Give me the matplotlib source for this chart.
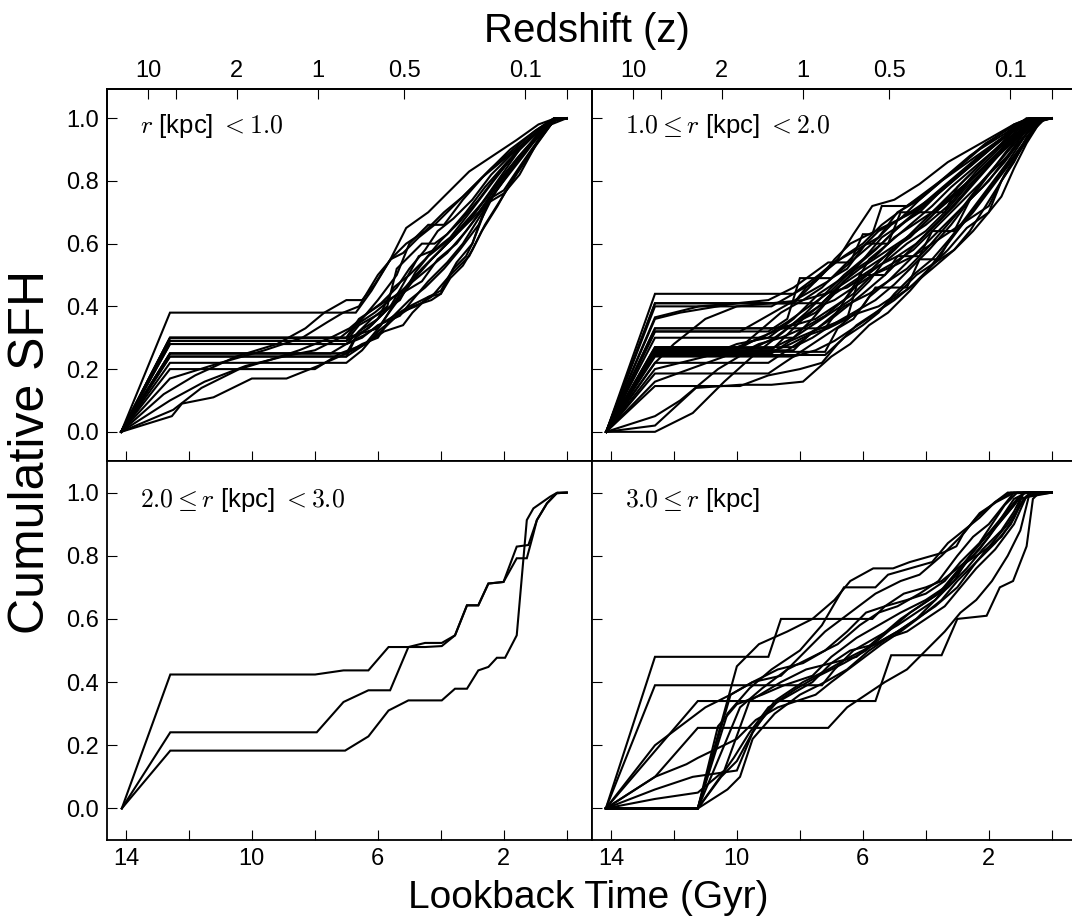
"""
Cumulative star formation histories in four radial bins,
lookback time on the bottom axis and redshift on the top axis.
"""
import matplotlib
matplotlib.use('Agg')
import matplotlib.pyplot as plt

plt.rcParams['font.family'] = ['Liberation Sans', 'DejaVu Sans']
plt.rcParams['mathtext.fontset'] = 'cm'

# ---- data: each curve is a list of (lookback time [Gyr], cumulative SFH) ----
SFH_R0 = [  # r < 1.0 kpc
    [(14.15, 0), (12.6, .38), (6.7, .38), (6.2, .45), (5.6, .55), (5.1, .65), (4.4, .70), (3.6, .78), (3.1, .83), (2.5, .87), (1.6, .93), (0.9, .98), (0.35, 1), (0, 1)],
    [(14.15, 0), (12.6, .30), (7.0, .30), (6.5, .36), (6.0, .42), (5.4, .50), (5.0, .60), (4.4, .66), (3.9, .66), (3.3, .74), (2.6, .82), (1.8, .90), (1.0, .96), (0.4, 1), (0, 1)],
    [(14.15, 0), (12.6, .30), (7.0, .30), (6.0, .33), (5.5, .40), (4.9, .48), (4.3, .55), (3.6, .62), (2.9, .70), (2.2, .80), (1.5, .90), (0.8, .97), (0.35, 1), (0, 1)],
    [(14.15, 0), (12.6, .29), (7.0, .29), (6.3, .33), (5.8, .38), (5.2, .44), (4.6, .52), (4.0, .58), (3.3, .66), (2.6, .74), (2.0, .82), (1.3, .90), (0.6, .98), (0.3, 1), (0, 1)],
    [(14.15, 0), (12.6, .28), (7.0, .28), (6.4, .31), (5.8, .35), (5.0, .40), (4.4, .43), (4.0, .45), (3.5, .54), (3.0, .60), (2.5, .74), (2.0, .77), (1.4, .86), (0.7, .96), (0.35, 1), (0, 1)],
    [(14.15, 0), (12.6, .28), (7.0, .28), (6.2, .36), (5.7, .40), (5.4, .52), (5.0, .56), (4.6, .60), (4.2, .60), (3.8, .63), (3.2, .70), (2.6, .78), (1.9, .86), (1.2, .93), (0.5, .99), (0, 1)],
    [(14.15, 0), (12.6, .25), (7.0, .25), (6.5, .28), (6.0, .30), (5.6, .36), (5.0, .42), (4.5, .46), (3.9, .52), (3.4, .58), (2.8, .66), (2.3, .76), (1.6, .86), (0.9, .95), (0.4, 1), (0, 1)],
    [(14.15, 0), (12.6, .25), (7.0, .25), (6.6, .32), (6.0, .36), (5.5, .46), (5.0, .50), (4.5, .55), (4.0, .61), (3.4, .67), (2.8, .74), (2.2, .82), (1.5, .90), (0.8, .97), (0.3, 1), (0, 1)],
    [(14.15, 0), (12.6, .24), (7.0, .24), (6.4, .28), (5.9, .32), (5.3, .38), (4.8, .40), (4.3, .43), (3.7, .50), (3.1, .56), (2.7, .64), (2.2, .72), (1.7, .81), (1.1, .90), (0.5, .98), (0, 1)],
    [(14.15, 0), (12.6, .24), (7.0, .24), (6.7, .30), (6.2, .34), (5.6, .40), (5.2, .47), (4.7, .56), (4.2, .58), (3.7, .62), (3.0, .71), (2.4, .79), (1.7, .88), (1.0, .95), (0.4, 1), (0, 1)],
    [(14.15, 0), (12.6, .22), (7.0, .22), (6.5, .26), (6.0, .32), (5.5, .36), (4.9, .40), (4.3, .42), (4.0, .44), (3.6, .52), (3.2, .56), (3.0, .60), (2.5, .73), (2.0, .76), (1.5, .82), (0.9, .93), (0.35, 1), (0, 1)],
    [(14.15, 0), (12.6, .20), (8.0, .20), (7.2, .25), (6.4, .28), (5.9, .34), (5.3, .44), (4.8, .50), (4.2, .56), (3.5, .63), (2.9, .70), (2.3, .78), (1.6, .87), (0.9, .95), (0.35, 1), (0, 1)],
    [(14.15, 0), (12.54, .05), (12.22, .09), (11.22, .11), (10.0, .17), (8.9, .17), (7.9, .21), (7.0, .25), (6.4, .28), (5.8, .32), (5.2, .34), (4.9, .38), (4.4, .43), (4.0, .44), (3.7, .49), (3.3, .53), (3.0, .58), (2.6, .66), (2.1, .74), (1.6, .82), (1.0, .91), (0.5, .98), (0.3, 1), (0, 1)],
    [(14.15, 0), (12.6, .10), (11.5, .16), (10.2, .21), (9.0, .24), (8.0, .26), (7.2, .30), (6.7, .34), (6.1, .38), (5.5, .43), (5.0, .47), (4.4, .52), (3.8, .57), (3.2, .64), (2.6, .72), (2.0, .80), (1.3, .89), (0.7, .97), (0.3, 1), (0, 1)],
    [(14.15, 0), (12.8, .12), (11.8, .18), (10.5, .24), (9.2, .28), (8.3, .33), (7.7, .38), (7.0, .42), (6.5, .42), (6.1, .47), (5.6, .55), (5.2, .57), (4.7, .62), (4.2, .66), (3.6, .72), (3.0, .78), (2.4, .84), (1.7, .90), (1.0, .96), (0.4, 1), (0, 1)],
    [(14.15, 0), (12.5, .07), (11.6, .14), (10.4, .20), (9.4, .23), (8.5, .26), (7.5, .30), (6.9, .33), (6.3, .38), (5.7, .42), (5.1, .45), (4.6, .48), (4.1, .55), (3.5, .60), (2.9, .68), (2.3, .76), (1.8, .84), (1.2, .91), (0.6, .97), (0.3, 1), (0, 1)],
    [(14.15, 0), (12.6, .17), (11.0, .22), (9.6, .26), (8.4, .30), (7.6, .35), (7.1, .38), (6.6, .40), (6.0, .50), (5.5, .56), (5.1, .60), (4.5, .64), (3.9, .70), (3.3, .75), (2.7, .81), (2.1, .86), (1.5, .91), (0.8, .97), (0.35, 1), (0, 1)],
    [(14.15, 0), (12.6, .25), (7.5, .25), (7.0, .28), (6.5, .30), (6.0, .34), (5.3, .37), (4.9, .42), (4.4, .48), (3.8, .54), (3.3, .60), (2.8, .68), (2.3, .76), (1.8, .83), (1.1, .92), (0.5, .98), (0.3, 1), (0, 1)],
    [(14.15, 0), (12.6, .29), (7.0, .29), (6.6, .34), (5.9, .38), (5.3, .42), (4.8, .51), (4.4, .56), (3.9, .60), (3.4, .64), (2.8, .70), (2.1, .80), (1.5, .88), (0.8, .96), (0.3, 1), (0, 1)],
    [(14.15, 0), (12.6, .30), (7.0, .30), (6.6, .36), (6.3, .38), (5.9, .41), (5.4, .46), (5.0, .52), (4.5, .58), (4.1, .64), (3.6, .68), (3.0, .74), (2.4, .82), (1.8, .88), (1.1, .94), (0.5, .99), (0, 1)],
]

SFH_R1 = [  # 1.0 <= r < 2.0 kpc
    [(14.15, 0), (12.6, .44), (8.2, .44), (7.4, .50), (6.8, .55), (6.3, .63), (5.7, .72), (5.0, .74), (4.2, .79), (3.3, .86), (2.6, .90), (1.9, .94), (1.2, .98), (0.7, 1), (0, 1)],
    [(14.15, 0), (12.6, .41), (8.2, .41), (7.8, .46), (7.1, .52), (6.6, .56), (6.0, .60), (5.4, .66), (4.6, .72), (3.8, .78), (3.0, .84), (2.3, .90), (1.5, .95), (0.8, 1), (0, 1)],
    [(14.15, 0), (12.6, .40), (8.9, .40), (8.2, .44), (7.5, .48), (6.9, .54), (6.2, .58), (5.5, .62), (4.9, .70), (4.2, .74), (3.5, .80), (2.8, .86), (2.1, .92), (1.3, .97), (0.6, 1), (0, 1)],
    [(14.15, 0), (12.6, .36), (11.8, .38), (10.0, .41), (9.0, .42), (8.2, .46), (7.1, .54), (6.4, .54), (6.0, .63), (5.7, .63), (5.4, .72), (4.6, .72), (4.0, .76), (3.3, .82), (2.6, .88), (1.9, .93), (1.2, .98), (0.7, 1), (0, 1)],
    [(14.15, 0), (12.6, .33), (7.2, .33), (6.7, .40), (6.2, .48), (5.8, .55), (5.2, .60), (4.5, .66), (3.8, .72), (3.2, .78), (2.5, .84), (1.8, .90), (1.1, .96), (0.5, 1), (0, 1)],
    [(14.15, 0), (12.6, .32), (9.0, .32), (8.4, .36), (8.0, .49), (7.0, .49), (6.5, .52), (5.9, .60), (5.2, .60), (4.8, .70), (3.4, .70), (3.0, .78), (2.4, .84), (1.8, .90), (1.2, .96), (0.6, 1), (0, 1)],
    [(14.15, 0), (12.6, .27), (10.0, .27), (9.2, .30), (8.4, .35), (7.7, .40), (7.0, .45), (6.3, .52), (5.6, .58), (5.0, .64), (4.3, .70), (3.6, .76), (2.9, .82), (2.2, .88), (1.5, .94), (0.8, .99), (0, 1)],
    [(14.15, 0), (12.6, .266), (8.9, .266), (8.2, .30), (7.6, .34), (7.0, .38), (6.4, .42), (5.8, .48), (5.2, .56), (4.6, .62), (4.0, .66), (3.3, .72), (2.6, .80), (1.9, .87), (1.2, .94), (0.6, .99), (0, 1)],
    [(14.15, 0), (12.6, .26), (8.2, .26), (7.6, .32), (7.0, .36), (6.5, .40), (6.0, .44), (5.3, .50), (4.7, .56), (4.1, .62), (3.5, .68), (2.8, .76), (2.1, .84), (1.4, .92), (0.7, .98), (0, 1)],
    [(14.15, 0), (12.6, .255), (8.9, .255), (8.3, .28), (7.7, .31), (7.1, .33), (6.5, .36), (6.1, .50), (5.3, .50), (4.9, .56), (4.2, .56), (3.8, .64), (3.1, .64), (2.6, .74), (2.0, .80), (1.4, .88), (0.8, .95), (0.4, 1), (0, 1)],
    [(14.15, 0), (12.6, .25), (9.9, .25), (9.3, .28), (8.6, .30), (7.9, .33), (7.2, .37), (6.6, .42), (6.1, .48), (5.5, .53), (4.9, .56), (4.3, .60), (3.7, .66), (3.1, .72), (2.4, .80), (1.7, .88), (1.0, .95), (0.5, 1), (0, 1)],
    [(14.15, 0), (12.6, .245), (7.2, .245), (6.6, .30), (6.0, .34), (5.5, .38), (5.0, .44), (4.4, .50), (3.8, .55), (3.2, .62), (2.6, .70), (2.0, .78), (1.4, .86), (0.8, .95), (0.3, 1), (0, 1)],
    [(14.15, 0), (12.6, .22), (9.0, .22), (8.4, .26), (7.8, .30), (7.2, .35), (6.6, .40), (5.8, .44), (5.2, .48), (4.6, .52), (4.0, .58), (3.4, .65), (2.8, .72), (2.2, .78), (1.5, .86), (0.9, .94), (0.4, 1), (0, 1)],
    [(14.15, 0), (12.6, .186), (9.0, .186), (8.5, .22), (7.9, .26), (7.3, .30), (6.7, .34), (6.0, .40), (5.6, .46), (4.6, .46), (4.2, .55), (3.6, .55), (3.2, .62), (2.5, .70), (1.9, .78), (1.3, .86), (0.7, .95), (0.3, 1), (0, 1)],
    [(14.15, 0), (12.6, .146), (9.9, .146), (9.0, .18), (8.0, .20), (7.3, .22), (6.8, .28), (6.2, .34), (5.6, .38), (5.0, .42), (4.4, .47), (3.8, .52), (3.1, .58), (2.5, .64), (2.0, .70), (1.6, .80), (1.2, .86), (0.8, .94), (0.3, 1), (0, 1)],
    [(14.15, 0), (12.6, 0), (11.4, .06), (10.4, .16), (9.4, .25), (8.5, .32), (7.8, .38), (7.2, .44), (6.6, .50), (6.0, .55), (5.4, .60), (4.8, .66), (4.1, .72), (3.4, .78), (2.7, .84), (2.0, .90), (1.3, .96), (0.6, 1), (0, 1)],
    [(14.15, 0), (12.6, .02), (11.3, .14), (9.9, .15), (8.9, .15), (7.9, .16), (7.0, .24), (6.4, .28), (5.8, .34), (5.2, .38), (4.5, .45), (3.9, .52), (3.3, .58), (2.7, .65), (2.0, .70), (1.6, .75), (1.2, .84), (0.8, .92), (0.3, 1), (0, 1)],
    [(14.15, 0), (12.6, .05), (11.8, .10), (10.6, .20), (9.6, .26), (8.8, .30), (8.0, .36), (7.4, .40), (6.8, .46), (6.2, .50), (5.6, .54), (5.0, .58), (4.4, .64), (3.8, .70), (3.1, .76), (2.4, .82), (1.7, .89), (1.0, .95), (0.5, 1), (0, 1)],
    [(14.15, 0), (12.6, .16), (11.5, .20), (10.4, .24), (9.3, .30), (8.3, .34), (7.5, .38), (6.9, .44), (6.3, .48), (5.7, .52), (5.1, .58), (4.5, .62), (3.9, .68), (3.3, .74), (2.6, .80), (1.9, .87), (1.2, .94), (0.6, .99), (0, 1)],
    [(14.15, 0), (12.6, .22), (12.0, .28), (11.0, .36), (10.0, .40), (8.9, .41), (7.9, .42), (7.3, .46), (6.7, .52), (6.1, .58), (5.5, .64), (4.8, .68), (4.2, .74), (3.5, .80), (2.8, .85), (2.1, .90), (1.4, .95), (0.7, 1), (0, 1)],
    [(14.15, 0), (12.6, .365), (11.2, .40), (10.0, .41), (8.2, .41), (7.3, .50), (6.9, .55), (6.4, .60), (5.6, .64), (5.0, .67), (4.4, .70), (3.7, .76), (3.0, .82), (2.3, .88), (1.6, .93), (0.9, .98), (0, 1)],
    [(14.15, 0), (12.6, .30), (8.2, .30), (7.6, .36), (7.1, .42), (6.6, .48), (6.1, .52), (5.5, .56), (4.9, .60), (4.3, .64), (3.7, .70), (3.0, .76), (2.4, .83), (1.7, .90), (1.0, .96), (0.5, 1), (0, 1)],
    [(14.15, 0), (12.6, .27), (8.2, .27), (7.6, .30), (7.0, .34), (6.3, .38), (5.6, .42), (5.0, .47), (4.5, .52), (3.9, .58), (3.2, .66), (2.6, .74), (2.0, .82), (1.4, .88), (0.9, .95), (0.4, 1), (0, 1)],
    [(14.15, 0), (12.6, .26), (10.0, .26), (9.3, .32), (8.6, .38), (7.9, .42), (7.2, .44), (6.5, .46), (5.9, .50), (5.2, .55), (4.6, .60), (4.0, .64), (3.4, .70), (2.8, .77), (2.1, .84), (1.5, .90), (0.9, .96), (0.4, 1), (0, 1)],
    [(14.15, 0), (12.6, .25), (8.9, .25), (8.3, .29), (7.6, .32), (6.8, .35), (6.1, .38), (5.5, .40), (4.9, .44), (4.3, .50), (3.7, .54), (3.1, .58), (2.6, .64), (2.1, .72), (1.6, .80), (1.1, .88), (0.6, .96), (0.3, 1), (0, 1)],
    [(14.15, 0), (12.6, .32), (9.9, .32), (9.2, .36), (8.5, .40), (7.8, .44), (7.1, .48), (6.4, .54), (5.7, .60), (5.1, .66), (4.5, .70), (3.9, .74), (3.2, .80), (2.5, .86), (1.8, .92), (1.1, .97), (0.5, 1), (0, 1)],
    [(14.15, 0), (12.6, .24), (8.2, .24), (7.5, .26), (6.9, .29), (6.3, .33), (5.7, .37), (5.1, .42), (4.5, .46), (3.9, .52), (3.3, .60), (2.7, .68), (2.1, .76), (1.5, .84), (0.9, .92), (0.4, .99), (0, 1)],
    [(14.15, 0), (12.6, .20), (11.0, .24), (10.0, .28), (9.0, .30), (8.2, .36), (7.4, .44), (6.8, .48), (6.2, .52), (5.6, .56), (5.0, .62), (4.4, .66), (3.8, .70), (3.2, .76), (2.6, .82), (2.0, .88), (1.3, .94), (0.6, .99), (0, 1)],
    [(14.15, 0), (12.6, .41), (7.3, .41), (6.8, .46), (6.4, .50), (5.9, .56), (5.4, .62), (4.8, .66), (4.2, .70), (3.6, .76), (2.9, .82), (2.2, .88), (1.5, .94), (0.8, .99), (0, 1)],
    [(14.15, 0), (12.6, .255), (7.2, .255), (6.8, .33), (6.3, .36), (5.8, .43), (5.2, .48), (4.6, .54), (4.0, .60), (3.4, .66), (2.8, .72), (2.2, .80), (1.6, .87), (1.0, .94), (0.5, 1), (0, 1)],
    [(14.15, 0), (12.6, .26), (8.9, .26), (8.3, .32), (7.9, .36), (7.4, .40), (6.9, .42), (6.3, .46), (5.7, .50), (5.0, .53), (4.4, .56), (3.8, .60), (3.2, .64), (2.6, .68), (2.0, .72), (1.5, .82), (1.0, .90), (0.5, .97), (0.2, 1), (0, 1)],
    [(14.15, 0), (12.6, .33), (8.9, .33), (8.2, .34), (7.5, .36), (6.9, .40), (6.3, .44), (5.7, .50), (5.0, .54), (4.4, .58), (3.8, .64), (3.2, .70), (2.6, .76), (2.0, .82), (1.4, .90), (0.8, .97), (0.3, 1), (0, 1)],
]

SFH_R2 = [  # 2.0 <= r < 3.0 kpc
    [(14.13, 0), (12.59, .424), (7.99, .424), (7.09, .437), (6.30, .437), (5.66, .511), (4.50, .511), (3.97, .514), (3.55, .548), (3.17, .643), (2.81, .643), (2.49, .712), (2.01, .717), (1.59, .792), (1.27, .792), (1.06, .87), (0.95, .913), (0.63, .966), (0.32, .998), (0, 1)],
    [(14.13, 0), (12.59, .241), (7.94, .241), (7.09, .337), (6.30, .374), (5.61, .374), (5.03, .511), (4.50, .524), (3.97, .524), (3.55, .548), (3.17, .643), (2.81, .643), (2.49, .712), (2.01, .717), (1.59, .829), (1.22, .834), (0.95, .913), (0.63, .966), (0.32, .998), (0, 1)],
    [(14.13, 0), (12.59, .183), (7.04, .183), (6.30, .228), (5.66, .310), (5.03, .342), (3.97, .342), (3.55, .379), (3.17, .379), (2.81, .437), (2.49, .448), (2.22, .477), (1.96, .477), (1.59, .548), (1.27, .913), (1.06, .95), (0.53, .987), (0.3, 1), (0, 1)],
]

SFH_R3 = [  # r >= 3.0 kpc
    [(14.16, 0), (11.24, 0), (10.0, .45), (9.3, .52), (8.4, .56), (7.6, .60), (6.9, .66), (6.4, .72), (5.67, .76), (5.04, .76), (4.51, .78), (3.45, .81), (3.03, .83), (2.82, .868), (2.29, .935), (1.76, .97), (1.23, .998), (0, 1)],
    [(14.16, 0), (11.24, 0), (10.3, .30), (9.6, .38), (8.9, .44), (8.0, .50), (7.3, .58), (6.6, .70), (5.6, .70), (5.2, .74), (4.5, .76), (3.8, .78), (3.3, .84), (2.8, .88), (2.3, .92), (1.8, .97), (1.4, 1), (0, 1)],
    [(14.16, 0), (11.24, 0), (10.4, .20), (9.9, .32), (9.2, .38), (8.4, .44), (7.6, .48), (6.8, .52), (6.1, .58), (5.5, .62), (4.9, .64), (4.2, .68), (3.6, .72), (3.0, .80), (2.5, .86), (2.0, .90), (1.6, .95), (1.2, 1), (0, 1)],
    [(14.16, 0), (11.24, 0), (10.3, .06), (9.9, .10), (9.5, .22), (8.8, .30), (8.0, .36), (7.2, .40), (6.5, .44), (5.8, .50), (5.2, .54), (4.6, .56), (4.0, .60), (3.4, .64), (2.9, .70), (2.4, .76), (1.8, .82), (1.2, .90), (0.8, .99), (0, 1)],
    [(14.16, 0), (11.24, 0), (10.1, .16), (9.6, .24), (9.0, .32), (8.3, .36), (7.6, .40), (7.0, .46), (6.4, .50), (5.6, .52), (4.9, .56), (4.3, .60), (3.7, .66), (3.1, .72), (2.6, .80), (2.1, .86), (1.6, .92), (1.1, .98), (0, 1)],
    [(14.16, 0), (11.24, 0), (10.5, .10), (10.0, .15), (9.4, .26), (8.7, .34), (8.1, .38), (7.4, .42), (6.6, .46), (5.9, .50), (5.2, .56), (4.5, .62), (3.9, .66), (3.3, .70), (2.7, .76), (2.2, .82), (1.6, .88), (1.2, .94), (0.9, 1), (0, 1)],
    [(14.16, 0), (11.24, 0), (10.2, .36), (9.5, .40), (8.6, .42), (7.8, .50), (7.2, .56), (6.4, .62), (5.6, .68), (4.8, .72), (4.2, .74), (3.5, .80), (2.9, .86), (2.4, .92), (1.8, .97), (1.3, 1), (0, 1)],
    [(14.16, 0), (11.24, 0), (10.6, .26), (10.0, .33), (9.2, .36), (8.5, .39), (7.6, .42), (7.0, .48), (6.2, .54), (5.5, .58), (4.8, .62), (4.0, .66), (3.4, .70), (2.9, .76), (2.3, .82), (1.7, .90), (1.2, .96), (0.9, 1), (0, 1)],
    [(14.16, 0), (12.6, .48), (9.0, .48), (8.6, .60), (5.7, .60), (5.3, .64), (4.7, .68), (4.0, .70), (3.5, .72), (3.0, .76), (2.5, .80), (2.0, .86), (1.6, .92), (1.2, .98), (0.8, 1), (0, 1)],
    [(14.16, 0), (12.6, .39), (7.3, .39), (6.9, .44), (6.3, .50), (5.6, .54), (4.9, .58), (4.3, .62), (3.7, .66), (3.2, .72), (2.7, .78), (2.1, .82), (1.6, .86), (1.2, .92), (0.9, 1), (0, 1)],
    [(14.16, 0), (11.24, .34), (5.6, .34), (5.1, .485), (3.5, .485), (3.0, .60), (2.07, .61), (1.65, .70), (1.23, .72), (0.8, .83), (0.6, .98), (0.4, 1), (0, 1)],
    [(14.16, 0), (12.6, .10), (11.24, .255), (7.1, .255), (6.5, .32), (5.9, .36), (5.3, .40), (4.6, .44), (4.0, .50), (3.4, .56), (2.9, .62), (2.4, .66), (1.9, .72), (1.4, .80), (1.0, .88), (0.7, 1), (0, 1)],
    [(14.16, 0), (12.6, .20), (11.8, .26), (11.0, .32), (10.2, .36), (9.5, .40), (8.7, .44), (7.9, .46), (7.2, .50), (6.5, .56), (5.9, .62), (5.3, .64), (4.6, .66), (4.0, .68), (3.4, .72), (2.9, .78), (2.3, .84), (1.9, .90), (1.5, .96), (1.1, 1), (0, 1)],
    [(14.16, 0), (12.6, .06), (11.4, .10), (10.0, .12), (9.5, .24), (8.8, .34), (7.9, .40), (7.1, .44), (6.4, .48), (5.6, .52), (4.9, .56), (4.3, .60), (3.7, .64), (3.0, .70), (2.4, .78), (1.8, .84), (1.3, .90), (0.9, .98), (0.6, 1), (0, 1)],
    [(14.16, 0), (12.6, .03), (11.24, .05), (10.4, .12), (9.6, .34), (8.6, .40), (7.8, .44), (7.0, .46), (6.2, .48), (5.5, .54), (4.8, .60), (4.2, .64), (3.6, .68), (3.1, .74), (2.6, .80), (2.1, .86), (1.7, .90), (1.2, .96), (0.9, 1), (0, 1)],
    [(14.16, 0), (12.6, .10), (11.6, .14), (11.24, .16), (10.0, .22), (9.4, .28), (8.7, .32), (7.5, .36), (7.0, .40), (6.2, .46), (5.4, .52), (4.8, .56), (4.0, .62), (3.5, .66), (3.0, .72), (2.4, .78), (1.9, .84), (1.4, .90), (1.0, .96), (0.7, 1), (0, 1)],
]

PANEL_LABELS = [r'$r$ [kpc] $< 1.0$', r'$1.0 \leq r$ [kpc] $< 2.0$',
                r'$2.0 \leq r$ [kpc] $< 3.0$', r'$3.0 \leq r$ [kpc]']

# redshift axis: labelled z values and the lookback time [Gyr] each sits at
Z_TICK_TIME = [13.3, 12.4, 10.48, 7.9, 5.16, 1.32, 0.0]
Z_TICK_LABEL = ['10', '', '2', '1', '0.5', '0.1', '']

T_MAJOR = [14, 10, 6, 2]
T_MINOR = [12, 8, 4, 0]
Y_TICKS = [0.0, 0.2, 0.4, 0.6, 0.8, 1.0]

# ---- layout (figure fractions measured off the 1072x924 reference) ----
W, H = 1072, 924
x_edges = [107, 592, 1077]
y_top, y_mid, y_bot = 89, 461, 840

fig = plt.figure(figsize=(W / 100, H / 100), dpi=100)

def make_ax(col, row):
    x0, x1 = x_edges[col], x_edges[col + 1]
    if row == 0:
        ya, yb = y_top, y_mid
    else:
        ya, yb = y_mid, y_bot
    return fig.add_axes([x0 / W, 1 - yb / H, (x1 - x0) / W, (yb - ya) / H])

TICK_KW = dict(direction='in', length=7.5, width=0.8, labelsize=17)

panels = [SFH_R0, SFH_R1, SFH_R2, SFH_R3]
for i, curves in enumerate(panels):
    row, col = divmod(i, 2)
    ax = make_ax(col, row)
    for c in curves:
        t = [p[0] for p in c]
        f = [p[1] for p in c]
        ax.plot(t, f, color='black', lw=1.5, solid_joinstyle='miter')

    ax.set_xlim(14.6, -0.8)
    ax.set_ylim((-0.093, 1.093) if row == 0 else (-0.1, 1.1))
    ax.set_xticks(T_MAJOR)
    ax.set_xticks(T_MINOR, minor=True)
    ax.set_yticks(Y_TICKS)
    ax.tick_params(which='both', top=False, right=False, pad=6, **TICK_KW)
    if row == 0:
        ax.tick_params(labelbottom=False)
    else:
        ax.set_xticklabels([str(v) for v in T_MAJOR])
    if col == 0:
        ax.set_yticklabels([f'{v:.1f}' for v in Y_TICKS])
    else:
        ax.tick_params(labelleft=False)
    for s in ax.spines.values():
        s.set_linewidth(1.3)

    ax.text(0.068, 0.90 if row == 0 else 0.897, PANEL_LABELS[i],
            transform=ax.transAxes, fontsize=18.5, va='center', ha='left')

    if row == 0:
        tw = ax.twiny()
        tw.set_xlim(ax.get_xlim())
        tw.set_xticks(Z_TICK_TIME)
        tw.set_xticklabels(Z_TICK_LABEL)
        tw.tick_params(which='both', pad=5, **TICK_KW)
        for s in tw.spines.values():
            s.set_linewidth(1.3)

fig.text(587 / W, 1 - 31 / H, 'Redshift (z)', fontsize=29, ha='center', va='center')
fig.text(588 / W, 1 - 898 / H, 'Lookback Time (Gyr)', fontsize=28, ha='center', va='center')
fig.text(31 / W, 1 - 452 / H, 'Cumulative SFH', fontsize=36, rotation=90,
         ha='center', va='center')

fig.savefig('out.png', dpi=100)
print('wrote out.png')
